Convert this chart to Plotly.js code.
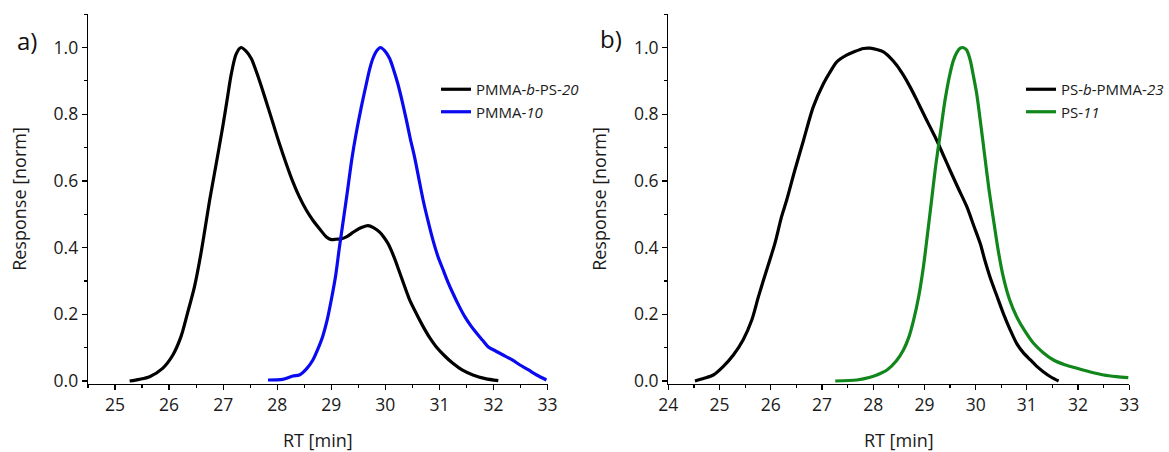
<!DOCTYPE html>
<html>
<head>
<meta charset="utf-8">
<script src="https://cdn.plot.ly/plotly-3.0.1.min.js"></script>
<style>html,body{margin:0;padding:0;background:#fff;}#chart{width:1169px;height:452px;}</style>
</head>
<body>
<div id="chart"></div>
<script>
// ---- Panel a) ----
const rtCopolyA = [25.27,25.45,25.64,25.88,26.07,26.22,26.34,26.47,26.59,26.69,26.75,26.87,26.99,27.08,27.15,27.24,27.33,27.42,27.52,27.62,27.73,27.88,28.04,28.17,28.29,28.41,28.54,28.66,28.79,28.91,29.0,29.09,29.18,29.28,29.37,29.46,29.57,29.68,29.78,29.89,29.97,30.05,30.16,30.27,30.45,30.58,30.70,30.82,30.94,31.1,31.25,31.42,31.62,31.85,32.09];
const respCopolyA = [0.0,0.005,0.013,0.038,0.078,0.133,0.203,0.283,0.383,0.482,0.542,0.65,0.76,0.85,0.92,0.98,1.0,0.99,0.967,0.925,0.872,0.795,0.712,0.65,0.597,0.552,0.512,0.482,0.455,0.432,0.424,0.425,0.426,0.432,0.442,0.452,0.461,0.466,0.46,0.447,0.432,0.412,0.372,0.323,0.243,0.2,0.163,0.13,0.103,0.075,0.053,0.033,0.018,0.007,0.001];
const rtHomoA = [27.83,28.1,28.29,28.41,28.55,28.66,28.75,28.84,28.92,29.0,29.08,29.15,29.23,29.31,29.38,29.46,29.56,29.65,29.71,29.77,29.84,29.91,29.99,30.08,30.15,30.23,30.31,30.39,30.46,30.54,30.62,30.70,30.79,30.88,30.97,31.07,31.16,31.25,31.36,31.47,31.58,31.69,31.80,31.90,32.04,32.18,32.34,32.49,32.65,32.80,32.98];
const respHomoA = [0.003,0.005,0.015,0.018,0.038,0.063,0.095,0.133,0.18,0.243,0.315,0.40,0.49,0.582,0.665,0.742,0.825,0.892,0.935,0.967,0.99,1.0,0.99,0.967,0.935,0.892,0.84,0.782,0.728,0.672,0.607,0.542,0.48,0.423,0.375,0.333,0.296,0.263,0.226,0.193,0.166,0.143,0.122,0.103,0.09,0.078,0.064,0.048,0.033,0.018,0.003];
// ---- Panel b) ----
const rtCopolyB = [24.52,24.7,24.88,25.07,25.27,25.46,25.63,25.76,25.92,26.08,26.21,26.31,26.47,26.64,26.83,27.03,27.16,27.29,27.48,27.64,27.81,27.94,28.07,28.2,28.33,28.46,28.59,28.72,28.85,28.98,29.11,29.24,29.37,29.5,29.66,29.83,29.96,30.09,30.18,30.28,30.41,30.54,30.67,30.80,30.93,31.07,31.2,31.32,31.47,31.62];
const respCopolyB = [0.0,0.008,0.018,0.043,0.078,0.123,0.183,0.253,0.333,0.412,0.492,0.542,0.632,0.722,0.822,0.892,0.927,0.957,0.977,0.988,0.997,0.998,0.994,0.987,0.97,0.947,0.917,0.882,0.843,0.802,0.762,0.722,0.677,0.632,0.578,0.522,0.467,0.412,0.362,0.312,0.257,0.203,0.155,0.113,0.085,0.063,0.043,0.028,0.012,0.0];
const rtHomoB = [27.26,27.68,27.94,28.07,28.27,28.45,28.59,28.70,28.79,28.89,28.98,29.06,29.14,29.22,29.31,29.40,29.50,29.57,29.64,29.70,29.75,29.82,29.89,29.95,30.02,30.10,30.18,30.26,30.35,30.44,30.54,30.66,30.80,30.96,31.13,31.32,31.52,31.74,31.98,32.24,32.50,32.75,32.98];
const respHomoB = [0.0,0.003,0.011,0.018,0.033,0.06,0.093,0.133,0.183,0.255,0.342,0.44,0.542,0.645,0.742,0.84,0.922,0.963,0.987,0.998,1.0,0.993,0.965,0.92,0.862,0.77,0.672,0.575,0.482,0.392,0.312,0.245,0.193,0.15,0.113,0.085,0.063,0.049,0.038,0.027,0.018,0.013,0.01];

const names = ['PMMA-<i>b</i>-PS-<i>20</i>','PMMA-<i>10</i>','PS-<i>b</i>-PMMA-<i>23</i>','PS-<i>11</i>'];
const yTickVals = [0,0.2,0.4,0.6,0.8,1.0];
const yTickText = ['0.0','0.2','0.4','0.6','0.8','1.0'];

const FONT = 'Open Sans, sans-serif';
const W = 1169, H = 452;
const px = v => v / W, py = v => 1 - v / H;

function line(color){ return {color: color, width: 3.2, shape: 'spline', smoothing: 0.8}; }

const traces = [
  {x: rtCopolyA, y: respCopolyA, name: names[0], mode: 'lines', line: line('#000000'), xaxis: 'x', yaxis: 'y', legend: 'legend'},
  {x: rtHomoA, y: respHomoA, name: names[1], mode: 'lines', line: line('#0a0af0'), xaxis: 'x', yaxis: 'y', legend: 'legend'},
  {x: rtCopolyB, y: respCopolyB, name: names[2], mode: 'lines', line: line('#000000'), xaxis: 'x2', yaxis: 'y2', legend: 'legend2'},
  {x: rtHomoB, y: respHomoB, name: names[3], mode: 'lines', line: line('#11871b'), xaxis: 'x2', yaxis: 'y2', legend: 'legend2'}
];

function xAxis(domain, range, anchor){
  return {
    domain: domain, range: range, anchor: anchor,
    showline: true, linecolor: '#000', linewidth: 1.3, mirror: false,
    showgrid: false, zeroline: false,
    ticks: 'outside', ticklen: 5, tickwidth: 1.2, tickcolor: '#000', dtick: 1,
    minor: {dtick: 0.5, ticks: 'outside', ticklen: 3, tickwidth: 1.2, tickcolor: '#000', showgrid: false},
    tickfont: {family: FONT, size: 17.5, color: '#1a1a1a'},
    title: {text: 'RT [min]', font: {family: FONT, size: 18, color: '#1a1a1a'}, standoff: 28},
    automargin: false, fixedrange: true
  };
}
function yAxis(domain, anchor){
  return {
    domain: domain, range: [-0.009, 1.1005], anchor: anchor,
    showline: true, linecolor: '#000', linewidth: 1.3, mirror: false,
    showgrid: false, zeroline: false,
    ticks: 'outside', ticklen: 5, tickwidth: 1.2, tickcolor: '#000',
    tickmode: 'array', tickvals: yTickVals, ticktext: yTickText,
    minor: {dtick: 0.1, tick0: 0, ticks: 'outside', ticklen: 3, tickwidth: 1.2, tickcolor: '#000', showgrid: false},
    tickfont: {family: FONT, size: 17.5, color: '#1a1a1a'},
    title: {text: 'Response [norm]', font: {family: FONT, size: 18, color: '#1a1a1a'}, standoff: 22},
    automargin: false, fixedrange: true
  };
}

const yDom = [py(384), py(14)];
const layout = {
  width: W, height: H,
  margin: {l: 0, r: 0, t: 0, b: 0},
  paper_bgcolor: '#fff', plot_bgcolor: 'rgba(0,0,0,0)',
  font: {family: FONT, color: '#1a1a1a'},
  showlegend: true,
  xaxis: xAxis([px(88), px(547.5)], [24.5, 33], 'y'),
  yaxis: yAxis(yDom, 'x'),
  xaxis2: xAxis([px(668.3), px(1129.3)], [24, 33], 'y2'),
  yaxis2: yAxis(yDom, 'x2'),
  legend: {x: px(436), y: py(73), xanchor: 'left', yanchor: 'top', bgcolor: 'rgba(0,0,0,0)',
           font: {family: FONT, size: 15, color: '#1a1a1a'}, tracegroupgap: 0, itemwidth: 30},
  legend2: {x: px(1021), y: py(73), xanchor: 'left', yanchor: 'top', bgcolor: 'rgba(0,0,0,0)',
           font: {family: FONT, size: 15, color: '#1a1a1a'}, tracegroupgap: 0, itemwidth: 30},
  annotations: [
    {text: 'a)', xref: 'paper', yref: 'paper', x: px(15), y: py(40), xanchor: 'left', yanchor: 'middle', showarrow: false, font: {family: FONT, size: 24, color: '#111'}},
    {text: 'b)', xref: 'paper', yref: 'paper', x: px(598), y: py(38), xanchor: 'left', yanchor: 'middle', showarrow: false, font: {family: FONT, size: 24, color: '#111'}}
  ]
};

Plotly.newPlot('chart', traces, layout, {displayModeBar: false, staticPlot: true});
</script>
</body>
</html>
